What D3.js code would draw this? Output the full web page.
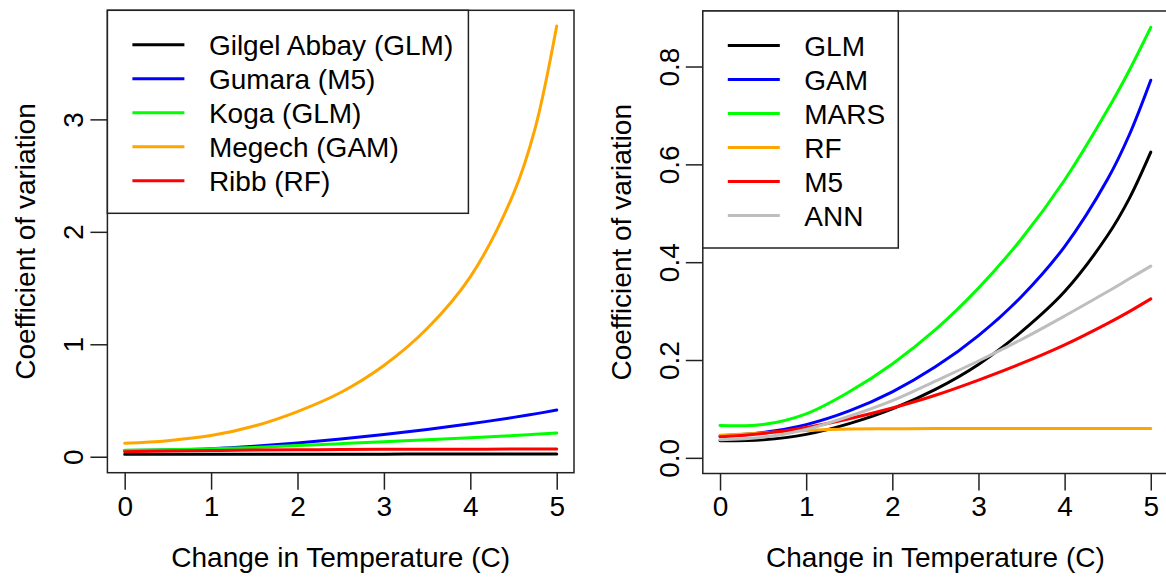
<!DOCTYPE html>
<html>
<head>
<meta charset="utf-8">
<script src="https://cdn.jsdelivr.net/npm/d3@7"></script>
<style>
body { margin: 0; background: #fff; }
text { font-family: Arial, "Liberation Sans", sans-serif; fill: #000; }
</style>
</head>
<body>
<div id="chart"></div>
<script>
// change in temperature (C), shared by both panels
var temps = [0, 0.5, 1, 1.5, 2, 2.5, 3, 3.5, 4, 4.5, 4.75, 5];

// left panel: one model per catchment
var siteNames = ["Gilgel Abbay (GLM)", "Gumara (M5)", "Koga (GLM)", "Megech (GAM)", "Ribb (RF)"];
var gilgelAbbay = [0.022, 0.022, 0.022, 0.023, 0.023, 0.023, 0.023, 0.024, 0.024, 0.024, 0.024, 0.024];
var gumara      = [0.055, 0.060, 0.072, 0.094, 0.123, 0.158, 0.198, 0.243, 0.293, 0.350, 0.381, 0.415];
var koga        = [0.057, 0.062, 0.070, 0.083, 0.099, 0.116, 0.133, 0.150, 0.168, 0.188, 0.199, 0.210];
var megech      = [0.120, 0.143, 0.188, 0.273, 0.402, 0.571, 0.811, 1.140, 1.600, 2.340, 2.920, 3.830];
var ribb        = [0.045, 0.050, 0.055, 0.059, 0.062, 0.064, 0.066, 0.067, 0.067, 0.068, 0.068, 0.068];

// right panel: one line per model
var modelNames = ["GLM", "GAM", "MARS", "RF", "M5", "ANN"];
var glm  = [0.035, 0.037, 0.048, 0.070, 0.100, 0.140, 0.191, 0.258, 0.340, 0.455, 0.530, 0.625];
var gam  = [0.045, 0.052, 0.068, 0.096, 0.135, 0.186, 0.250, 0.330, 0.432, 0.570, 0.660, 0.772];
var mars = [0.066, 0.068, 0.090, 0.135, 0.192, 0.262, 0.347, 0.448, 0.568, 0.712, 0.792, 0.880];
var rf   = [0.046, 0.051, 0.056, 0.059, 0.0595, 0.060, 0.060, 0.060, 0.060, 0.060, 0.060, 0.060];
var m5   = [0.043, 0.050, 0.062, 0.080, 0.102, 0.128, 0.159, 0.193, 0.231, 0.275, 0.299, 0.325];
var ann  = [0.037, 0.042, 0.058, 0.085, 0.117, 0.157, 0.198, 0.242, 0.290, 0.340, 0.366, 0.392];

var leftTicks = [0, 1, 2, 3];
var rightTicks = [0, 0.2, 0.4, 0.6, 0.8];
var xTicks = [0, 1, 2, 3, 4, 5];

var W = 1166, H = 579;
var axisFont = 28, legendFont = 28;

var svg = d3.select("#chart").append("svg")
    .attr("width", W)
    .attr("height", H)
    .style("display", "block");

svg.append("rect").attr("width", W).attr("height", H).attr("fill", "#fff");

function panel(opts) {
  var x = d3.scaleLinear().domain([-0.2, 5.2]).range([opts.left, opts.right]);
  var y = d3.scaleLinear().domain(opts.yDomain).range([opts.bottom, opts.top]);

  var g = svg.append("g");

  var line = d3.line()
      .x(function(d) { return x(d[0]); })
      .y(function(d) { return y(d[1]); })
      .curve(d3.curveCatmullRom.alpha(0.5));

  opts.series.forEach(function(s, i) {
    g.append("path")
        .attr("fill", "none")
        .attr("stroke", opts.colors[i])
        .attr("stroke-width", 3)
        .attr("stroke-linecap", "round")
        .attr("d", line(temps.map(function(t, j) { return [t, s[j]]; })));
  });

  // x axis
  var xa = g.append("g")
      .attr("transform", "translate(0," + opts.bottom + ")")
      .call(d3.axisBottom(x).tickValues(xTicks).tickSize(17).tickPadding(6).tickFormat(d3.format("d")));
  xa.select(".domain").remove();
  xa.selectAll("line").attr("stroke", "#222").attr("stroke-width", 1.5);
  xa.selectAll("text").attr("font-size", axisFont).attr("fill", "#000").style("font-family", "Arial, 'Liberation Sans', sans-serif");

  // y axis, labels parallel to the axis
  var ya = g.append("g")
      .attr("transform", "translate(" + opts.left + ",0)")
      .call(d3.axisLeft(y).tickValues(opts.yTicks).tickSize(17).tickFormat(opts.yFormat));
  ya.select(".domain").remove();
  ya.selectAll("line").attr("stroke", "#222").attr("stroke-width", 1.5);
  ya.selectAll("text")
      .attr("font-size", axisFont)
      .attr("fill", "#000")
      .style("font-family", "Arial, 'Liberation Sans', sans-serif")
      .attr("x", 0)
      .attr("y", -24)
      .attr("dy", 0)
      .attr("text-anchor", "middle")
      .attr("transform", "rotate(-90)");

  // box
  g.append("rect")
      .attr("x", opts.left)
      .attr("y", opts.top)
      .attr("width", opts.right - opts.left)
      .attr("height", opts.bottom - opts.top)
      .attr("fill", "none")
      .attr("stroke", "#222")
      .attr("stroke-width", 1.5);

  // titles
  g.append("text")
      .attr("x", (opts.left + opts.right) / 2)
      .attr("y", 567)
      .attr("text-anchor", "middle")
      .attr("font-size", axisFont)
      .text("Change in Temperature (C)");

  g.append("text")
      .attr("transform", "translate(" + (opts.left - 72) + "," + ((opts.top + opts.bottom) / 2) + ") rotate(-90)")
      .attr("text-anchor", "middle")
      .attr("font-size", axisFont)
      .text("Coefficient of variation");

  // legend
  var lg = g.append("g");
  lg.append("rect")
      .attr("x", opts.left)
      .attr("y", opts.top)
      .attr("width", opts.legendW)
      .attr("height", opts.legendH)
      .attr("fill", "#fff")
      .attr("stroke", "#222")
      .attr("stroke-width", 1.5);

  opts.names.forEach(function(name, i) {
    var ly = opts.top + 34.5 + i * 34;
    lg.append("line")
        .attr("x1", opts.left + 25)
        .attr("x2", opts.left + 77)
        .attr("y1", ly)
        .attr("y2", ly)
        .attr("stroke", opts.colors[i])
        .attr("stroke-width", 3);
    lg.append("text")
        .attr("x", opts.left + 101.5)
        .attr("y", ly)
        .attr("dy", "0.36em")
        .attr("font-size", legendFont)
        .text(name);
  });
}

panel({
  left: 107.4, right: 574, top: 10.3, bottom: 472.7,
  yDomain: [-0.142, 3.97],
  yTicks: leftTicks,
  yFormat: d3.format("d"),
  series: [gilgelAbbay, gumara, koga, megech, ribb],
  colors: ["#000000", "#0000ff", "#00ff00", "#ffa500", "#ff0000"],
  names: siteNames,
  legendW: 361, legendH: 203
});

panel({
  left: 702.8, right: 1168, top: 11, bottom: 473.5,
  yDomain: [-0.032, 0.9135],
  yTicks: rightTicks,
  yFormat: d3.format(".1f"),
  series: [glm, gam, mars, rf, m5, ann],
  colors: ["#000000", "#0000ff", "#00ff00", "#ffa500", "#ff0000", "#bebebe"],
  names: modelNames,
  legendW: 195.5, legendH: 237
});
</script>
</body>
</html>
